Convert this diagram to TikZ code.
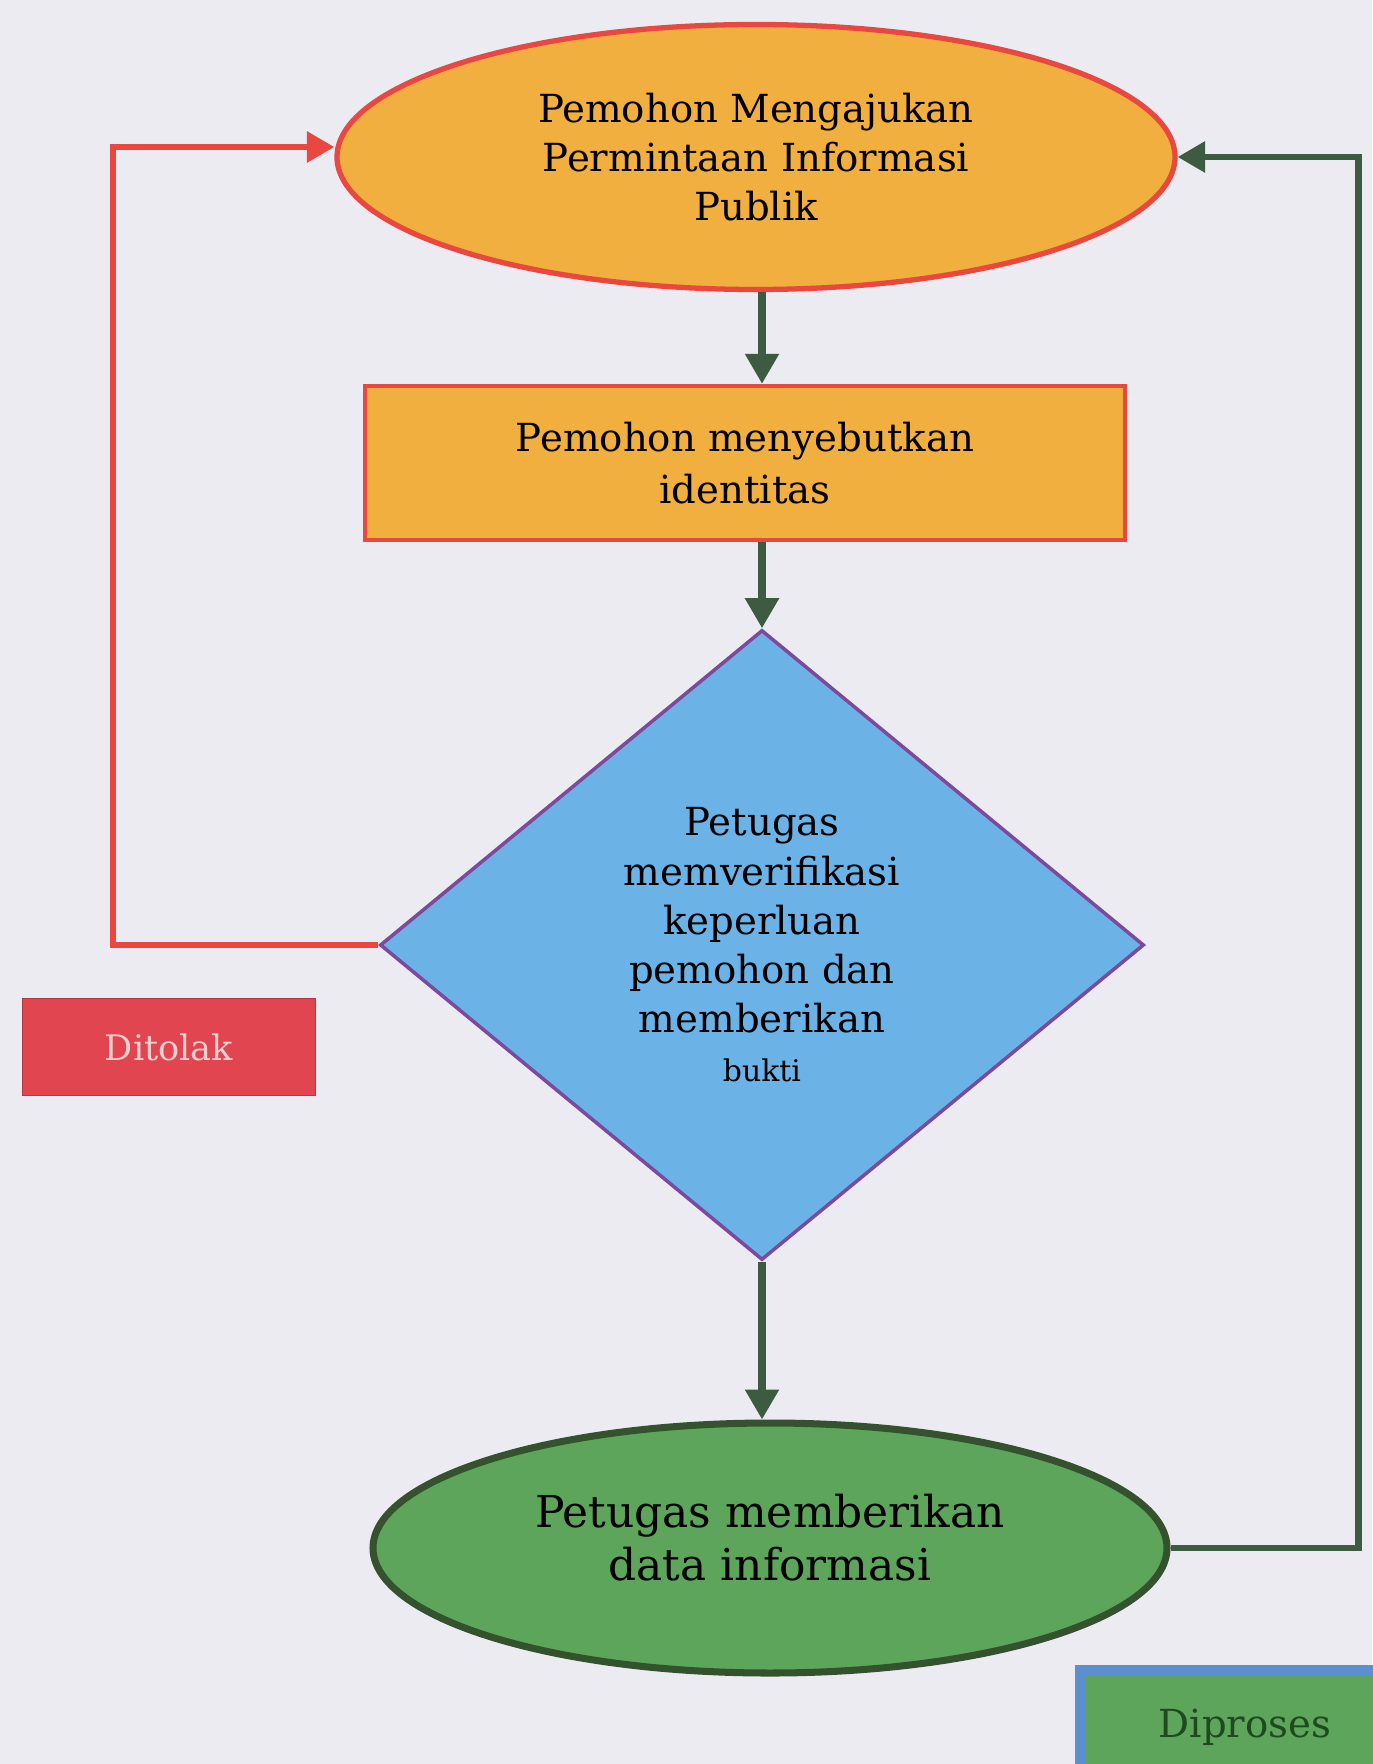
\documentclass[tikz,border=0pt]{standalone}
\usepackage{fontspec}
\setmainfont{DejaVu Serif}
\usetikzlibrary{shapes.geometric, arrows.meta}

\definecolor{bgc}{HTML}{ECEBF1}
\definecolor{orangef}{HTML}{F0AF3E}
\definecolor{redb}{HTML}{E8483F}
\definecolor{bluef}{HTML}{6BB3E6}
\definecolor{purpleb}{HTML}{7B4A9C}
\definecolor{greenf}{HTML}{5CA55A}
\definecolor{greenb}{HTML}{34522E}
\definecolor{arrowg}{HTML}{3C5B41}
\definecolor{tolakf}{HTML}{E04550}
\definecolor{tolakt}{HTML}{F7CFCF}
\definecolor{prosesb}{HTML}{5B8FD0}
\definecolor{prosest}{HTML}{1F4A1F}

\begin{document}
\begin{tikzpicture}[
    startnode/.style={ellipse, draw=redb, fill=orangef, line width=3pt, minimum width=16.76cm, minimum height=5.3cm, align=center, font=\fontsize{22}{28}\selectfont, inner sep=0pt},
    procnode/.style={rectangle, draw=redb, fill=orangef, line width=2.5pt, minimum width=15.2cm, minimum height=3.08cm, align=center, font=\fontsize{22}{30}\selectfont},
    decnode/.style={diamond, draw=purpleb, fill=bluef, line width=2pt, minimum width=15.28cm, minimum height=12.6cm, align=center, font=\fontsize{22}{28}\selectfont, inner sep=0pt},
    endnode/.style={ellipse, draw=greenb, fill=greenf, line width=4pt, minimum width=15.88cm, minimum height=5cm, align=center, font=\fontsize{25}{30}\selectfont, inner sep=0pt},
    tag/.style={rectangle, minimum height=1.94cm, font=\fontsize{22}{26}\selectfont},
    edge/.style={draw=arrowg, line width=4pt, -{Triangle[length=0.6cm, width=0.65cm]}},
    redline/.style={draw=redb, line width=3.5pt, -{Triangle[length=0.55cm, width=0.6cm]}},
    greenline/.style={draw=arrowg, line width=3.5pt, -{Triangle[length=0.55cm, width=0.6cm]}}
]
    \fill[bgc] (0,0) rectangle (27.44,-35.28);
    \useasboundingbox (0,0) rectangle (27.44,-35.28);

    \node[startnode] (req) at (15.12,-3.14) {Pemohon Mengajukan\\Permintaan Informasi\\Publik};
    \node[procnode] (ident) at (14.9,-9.26) {Pemohon menyebutkan\\identitas};
    \node[decnode] (verif) at (15.24,-18.9) {Petugas\\memverifikasi\\keperluan\\pemohon dan\\memberikan\\{\fontsize{17}{20}\selectfont bukti}};
    \node[endnode] (give) at (15.4,-30.96) {Petugas memberikan\\data informasi\\[-18pt]};

    \node[tag, fill=tolakf, draw=tolakf!80!black, line width=1pt, minimum width=5.86cm, text=tolakt, font=\fontsize{20}{24}\selectfont] (tolak) at (3.38,-20.94) {Ditolak};
    \node[tag, fill=greenf, draw=prosesb, line width=6pt, minimum width=6.6cm, minimum height=2.3cm, text=prosest] (proses) at (24.9,-34.55) {Diproses};

    \draw[edge] (req.south -| verif.north) -- (ident.north -| verif.north);
    \draw[edge] (ident.south -| verif.north) -- (verif.north);
    \draw[edge] (verif.south) -- (give.north -| verif.south);
    \draw[redline] (verif.west) -- ++(-5.3,0) |- ([yshift=0.2cm]req.west);
    \draw[greenline] (give.east) -- ++(3.76,0) |- (req.east);
\end{tikzpicture}
\end{document}
